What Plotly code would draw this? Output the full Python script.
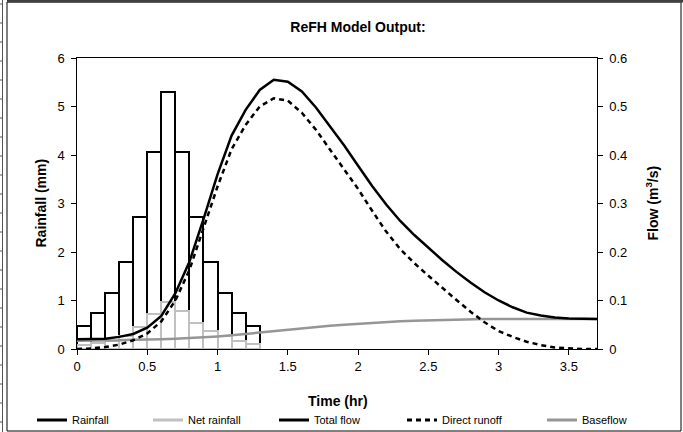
import plotly.graph_objects as go

# ---- data ----
bar_time = [0.05, 0.15, 0.25, 0.35, 0.45, 0.55, 0.65, 0.75, 0.85, 0.95, 1.05, 1.15, 1.25]
rainfall = [0.48, 0.745, 1.15, 1.79, 2.72, 4.07, 5.30, 4.07, 2.72, 1.79, 1.15, 0.745, 0.48]
net_rainfall = [0.08, 0.12, 0.17, 0.27, 0.45, 0.72, 0.97, 0.79, 0.54, 0.37, 0.26, 0.16, 0.10]

time = [0.0, 0.1, 0.2, 0.3, 0.4, 0.5, 0.6, 0.7, 0.8, 0.9,
        1.0, 1.1, 1.2, 1.3, 1.4, 1.5, 1.6, 1.7, 1.8, 1.9,
        2.0, 2.1, 2.2, 2.3, 2.4, 2.5, 2.6, 2.7, 2.8, 2.9,
        3.0, 3.1, 3.2, 3.3, 3.4, 3.5, 3.6, 3.7]
total_flow = [0.020, 0.020, 0.021, 0.025, 0.031, 0.044, 0.068, 0.115, 0.180, 0.268,
              0.360, 0.440, 0.493, 0.534, 0.555, 0.551, 0.531, 0.498, 0.460, 0.420,
              0.378, 0.336, 0.298, 0.264, 0.235, 0.208, 0.183, 0.159, 0.137, 0.117,
              0.100, 0.086, 0.075, 0.069, 0.065, 0.063, 0.062, 0.062]
direct_runoff = [0.000, 0.001, 0.004, 0.009, 0.018, 0.032, 0.057, 0.100, 0.163, 0.248,
                 0.335, 0.412, 0.462, 0.500, 0.517, 0.512, 0.487, 0.452, 0.412, 0.372,
                 0.330, 0.285, 0.242, 0.206, 0.177, 0.151, 0.125, 0.101, 0.077, 0.055,
                 0.037, 0.025, 0.015, 0.008, 0.003, 0.001, 0.000, 0.000]
baseflow = [0.017, 0.017, 0.018, 0.018, 0.019, 0.019, 0.020, 0.021, 0.022, 0.024,
            0.026, 0.028, 0.031, 0.034, 0.037, 0.039, 0.042, 0.045, 0.048, 0.050,
            0.052, 0.054, 0.056, 0.057, 0.058, 0.059, 0.060, 0.061, 0.061, 0.062,
            0.062, 0.062, 0.062, 0.062, 0.062, 0.062, 0.062, 0.062]

legend_names = ["Rainfall", "Net rainfall", "Total flow", "Direct runoff", "Baseflow"]

FONT = "Liberation Sans, Arial, sans-serif"
BLACK = "#000000"
LIGHT = "#C0C0C0"
MID = "#969696"
DASH = "5px,4px"
NBSP = "\u00a0"

L, R, T, B = 77, 86, 58, 83
W, H = 683, 432
pw, ph = W - L - R, H - T - B

def px(x):
    return (x - L) / pw

def py(y):
    return (H - B - y) / ph

fig = go.Figure()

fig.add_trace(go.Bar(x=bar_time, y=rainfall, width=0.1, name=legend_names[0],
                     marker=dict(color="rgba(0,0,0,0)", line=dict(color=BLACK, width=2)),
                     showlegend=False, yaxis="y"))
fig.add_trace(go.Bar(x=bar_time, y=net_rainfall, width=0.1, name=legend_names[1],
                     marker=dict(color="rgba(0,0,0,0)", line=dict(color=LIGHT, width=2)),
                     showlegend=False, yaxis="y"))

fig.add_trace(go.Scatter(x=time, y=baseflow, mode="lines", name=legend_names[4],
                         line=dict(color=MID, width=2.5), showlegend=False, yaxis="y2"))
fig.add_trace(go.Scatter(x=time, y=direct_runoff, mode="lines", name=legend_names[3],
                         line=dict(color=BLACK, width=2.5, dash=DASH), showlegend=False, yaxis="y2"))
fig.add_trace(go.Scatter(x=time, y=total_flow, mode="lines", name=legend_names[2],
                         line=dict(color=BLACK, width=2.5), showlegend=False, yaxis="y2"))

# legend entries (line symbols as in the original), each in its own legend box
styles = [(BLACK, "solid"), (LIGHT, "solid"), (BLACK, "solid"), (BLACK, DASH), (MID, "solid")]
text_starts = [72, 188, 314, 442, 582]
legend_layout = {}
for i, (nm, (col, dsh)) in enumerate(zip(legend_names, styles)):
    key = "legend" if i == 0 else f"legend{i + 1}"
    fig.add_trace(go.Scatter(x=[None], y=[None], mode="lines", name=nm,
                             line=dict(color=col, width=3, dash=dsh), yaxis="y2",
                             legend=key))
    legend_layout[key] = dict(x=px(text_starts[i] - 40), xanchor="left", y=py(420), yanchor="middle",
                              font=dict(family=FONT, size=11, color=BLACK),
                              bgcolor="rgba(0,0,0,0)", borderwidth=0, itemwidth=30)

shapes = [
    dict(type="rect", xref="paper", yref="paper", x0=px(7), x1=px(681), y0=py(431), y1=py(2),
         line=dict(color=BLACK, width=1)),
    dict(type="line", xref="paper", yref="paper", x0=px(7), x1=px(683), y0=py(1), y1=py(1),
         line=dict(color="#404040", width=3)),
    dict(type="line", xref="paper", yref="paper", x0=px(2.5), x1=px(2.5), y0=py(0), y1=py(432),
         line=dict(color="#555555", width=1)),
]
for k in range(23):
    yy = 4 + 19 * k
    shapes.append(dict(type="line", xref="paper", yref="paper", x0=px(0), x1=px(3), y0=py(yy), y1=py(yy),
                       line=dict(color="#555555", width=1)))

fig.update_layout(
    width=W, height=H, autosize=False,
    margin=dict(l=L, r=R, t=T, b=B, pad=0, autoexpand=False),
    paper_bgcolor="white", plot_bgcolor="white",
    barmode="overlay", bargap=0,
    font=dict(family=FONT, size=13, color=BLACK),
    title=dict(text="<b>ReFH Model Output:</b>", x=358 / W, xanchor="center",
               y=1 - 27 / H, yanchor="middle", yref="container",
               font=dict(family=FONT, size=14, color=BLACK)),
    xaxis=dict(range=[0, 3.7], dtick=0.5, tick0=0, showgrid=False, zeroline=False,
               showline=True, linecolor=BLACK, linewidth=1, mirror=True,
               ticks="outside", ticklen=5, tickcolor=BLACK, tickfont=dict(size=13)),
    yaxis=dict(range=[0, 6], dtick=1, showgrid=False, zeroline=False,
               showline=True, linecolor=BLACK, linewidth=1,
               ticks="outside", ticklen=5, tickwidth=1, tickcolor=BLACK, tickfont=dict(size=13),
               ticksuffix=NBSP),
    yaxis2=dict(range=[0, 0.6], dtick=0.1, overlaying="y", side="right", showgrid=False,
                zeroline=False, showline=True, linecolor=BLACK, linewidth=1,
                ticks="outside", ticklen=5, tickwidth=1, tickcolor=BLACK, tickfont=dict(size=13),
                tickprefix=NBSP),
    annotations=[
        dict(text="<b>Time (hr)</b>", xref="paper", yref="paper", x=px(338), y=py(401),
             xanchor="center", yanchor="middle", showarrow=False, font=dict(size=14)),
        dict(text="<b>Rainfall (mm)</b>", xref="paper", yref="paper", x=px(40), y=0.5,
             xanchor="center", yanchor="middle", showarrow=False, textangle=-90, font=dict(size=14)),
        dict(text="<b>Flow (m<sup>3</sup>/s)</b>", xref="paper", yref="paper", x=px(652), y=0.5,
             xanchor="center", yanchor="middle", showarrow=False, textangle=-90, font=dict(size=14)),
    ],
    shapes=shapes,
    **legend_layout,
)

fig.write_html("out.html", config={"displayModeBar": False},
               post_script="document.body.style.margin='0';")
